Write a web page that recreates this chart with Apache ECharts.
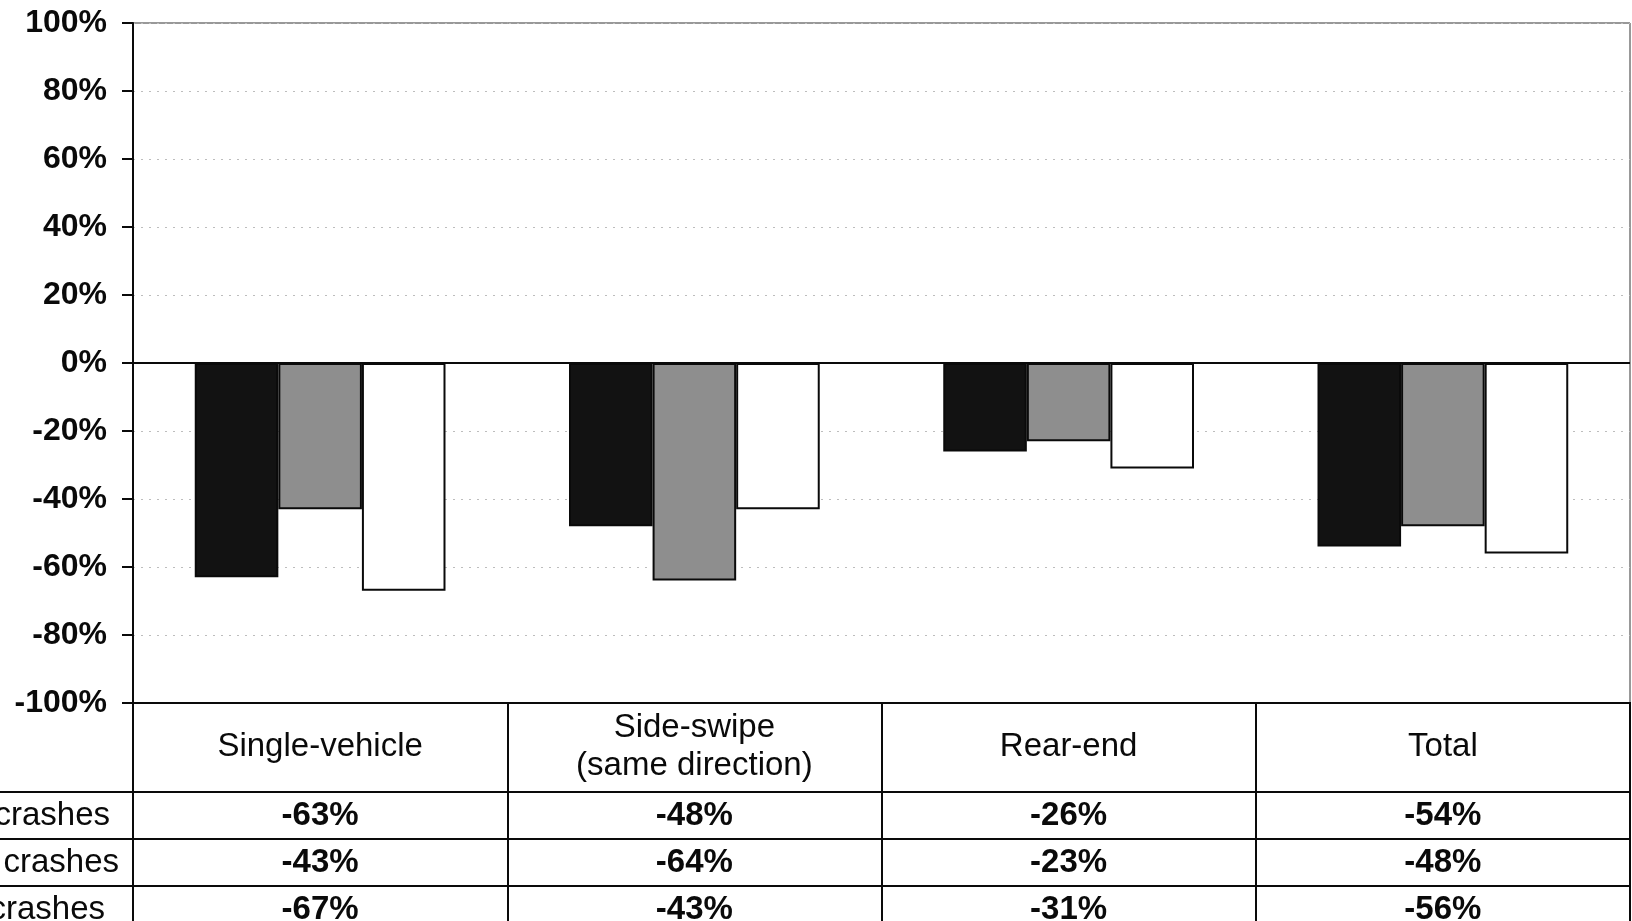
<!DOCTYPE html>
<html>
<head>
<meta charset="utf-8">
<title>Crash reduction by crash type</title>
<script src="https://cdn.jsdelivr.net/npm/echarts@6/dist/echarts.min.js"></script>
<style>
  html, body { margin: 0; padding: 0; background: #fff; }
  #chart { width: 1632px; height: 921px; }
</style>
</head>
<body>
<div id="chart"></div>
<script>
// Crash types along the category axis (also the data-table header)
const categories = ['Single-vehicle', 'Side-swipe\n(same direction)', 'Rear-end', 'Total'];

// Percent change per crash type, one array per table row / bar colour
const blackBars = [-63, -48, -26, -54];
const grayBars  = [-43, -64, -23, -48];
const whiteBars = [-67, -43, -31, -56];

// Row labels of the data table
const rowLabels = ['crashes', 'crashes', 'crashes'];

// Value axis ticks
const yMin = -100, yMax = 100, yStep = 20;

const FONT = 'Liberation Sans, Arial, sans-serif';
const INK = '#0a0a0a';

const rows = [blackBars, grayBars, whiteBars];
const tableCells = [];
rows.forEach((vals, r) => vals.forEach((v, c) => tableCells.push([c, r, v])));

// per-row shift of the row label text (right padding)
const labelShift = [9, 0, 14];

const chart = echarts.init(document.getElementById('chart'), null, { renderer: 'canvas' });

const barStyle = (color) => ({ color: color, borderColor: INK, borderWidth: 2 });
const gridBase = { outerBoundsMode: 'none', containLabel: false };

chart.setOption({
  animation: false,
  backgroundColor: '#fff',
  textStyle: { fontFamily: FONT },
  grid: [
    // 0: bar chart
    Object.assign({ left: 133, right: 2, top: 23, height: 680, show: true, borderColor: '#333', borderWidth: 1 }, gridBase),
    // 1: table header row
    Object.assign({ left: 133, right: 2, top: 703, height: 89, show: true, borderColor: INK, borderWidth: 2 }, gridBase),
    // 2: row-label column
    Object.assign({ left: 0, width: 133, top: 792, height: 141, show: false }, gridBase),
    // 3: table body
    Object.assign({ left: 133, right: 2, top: 792, height: 141, show: true, borderColor: INK, borderWidth: 2 }, gridBase)
  ],
  xAxis: [
    {
      gridIndex: 0, type: 'category', data: categories,
      axisLine: { onZero: false, lineStyle: { color: INK, width: 2 } },
      axisTick: { show: false },
      axisLabel: {
        interval: 0, margin: 44, verticalAlign: 'middle',
        fontSize: 33, lineHeight: 38, color: INK, fontFamily: FONT
      },
      splitLine: { show: false }
    },
    {
      gridIndex: 1, type: 'category', data: categories,
      axisLine: { show: false }, axisTick: { show: false }, axisLabel: { show: false },
      splitLine: { show: true, interval: 0, lineStyle: { color: INK, width: 2 } }
    },
    { gridIndex: 2, type: 'value', min: 0, max: 1, show: false },
    {
      gridIndex: 3, type: 'category', data: categories,
      axisLine: { show: false }, axisTick: { show: false }, axisLabel: { show: false },
      splitLine: { show: true, interval: 0, lineStyle: { color: INK, width: 2 } }
    }
  ],
  yAxis: [
    {
      gridIndex: 0, type: 'value', min: yMin, max: yMax, interval: yStep,
      axisLine: { show: true, lineStyle: { color: INK, width: 2 } },
      axisTick: { show: true, length: 11, lineStyle: { color: INK, width: 2 } },
      axisLabel: {
        margin: 26, fontSize: 32, fontWeight: 'bold', color: INK, fontFamily: FONT,
        formatter: (v) => v + '%'
      },
      splitLine: { show: true, lineStyle: { color: '#bdbdbd', width: 1, type: [2, 6] } }
    },
    {
      gridIndex: 1, type: 'value', min: 0, max: 1, show: false
    },
    {
      gridIndex: 2, type: 'category', data: rowLabels.map((t, i) => ({
        value: t, textStyle: { padding: [0, labelShift[i], 0, 0] }
      })),
      inverse: true, position: 'right',
      axisLine: { show: true, onZero: false, lineStyle: { color: INK, width: 2 } },
      axisTick: { show: false },
      axisLabel: { inside: true, margin: 14, fontSize: 33, color: INK, fontFamily: FONT },
      splitLine: { show: true, interval: 0, lineStyle: { color: INK, width: 2 } }
    },
    {
      gridIndex: 3, type: 'category', data: rowLabels, inverse: true,
      axisLine: { show: true, onZero: false, lineStyle: { color: INK, width: 2 } },
      axisTick: { show: false }, axisLabel: { show: false },
      splitLine: { show: true, interval: 0, lineStyle: { color: INK, width: 2 } }
    }
  ],
  series: [
    {
      type: 'bar', xAxisIndex: 0, yAxisIndex: 0, data: blackBars,
      barGap: '0%', barCategoryGap: '33%',
      itemStyle: barStyle('#121212'),
      markLine: {
        silent: true, symbol: 'none', label: { show: false },
        lineStyle: { color: INK, width: 2, type: 'solid' },
        data: [{ yAxis: 0 }]
      }
    },
    {
      type: 'bar', xAxisIndex: 0, yAxisIndex: 0, data: grayBars,
      barGap: '0%', barCategoryGap: '33%',
      itemStyle: barStyle('#8e8e8e')
    },
    {
      type: 'bar', xAxisIndex: 0, yAxisIndex: 0, data: whiteBars,
      barGap: '0%', barCategoryGap: '33%',
      itemStyle: barStyle('#ffffff')
    },
    {
      type: 'scatter', xAxisIndex: 3, yAxisIndex: 3, data: tableCells,
      symbol: 'rect', symbolSize: 0, itemStyle: { color: INK, opacity: 1 },
      label: {
        show: true, position: 'inside', fontSize: 33, fontWeight: 'bold',
        color: INK, textBorderWidth: 0, opacity: 1, fontFamily: FONT,
        formatter: (p) => p.value[2] + '%'
      }
    }
  ]
});
</script>
</body>
</html>
